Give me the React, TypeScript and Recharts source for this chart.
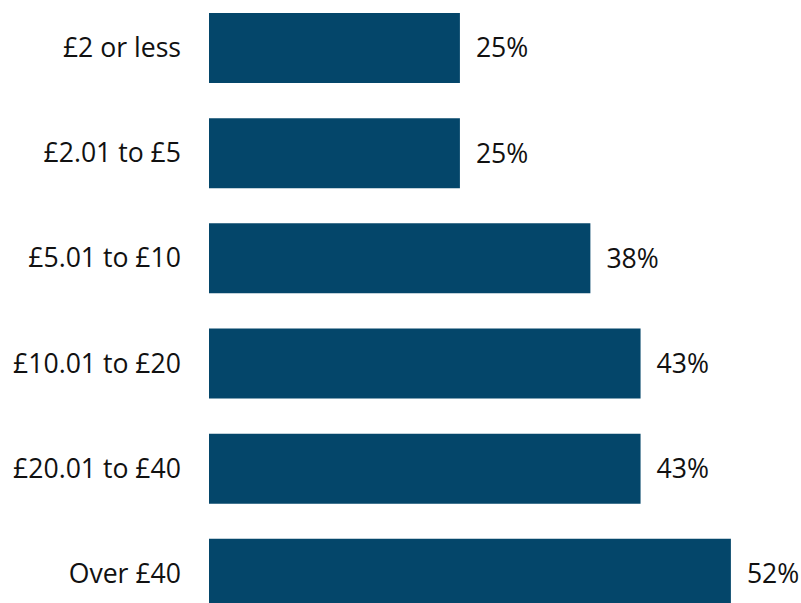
import React from 'react';
import { BarChart, Bar, XAxis, YAxis, LabelList } from 'recharts';

const categories = ['£2 or less', '£2.01 to £5', '£5.01 to £10', '£10.01 to £20', '£20.01 to £40', 'Over £40'];
const shares = [25, 25, 38, 43, 43, 52];

const data = categories.map((name, i) => ({ name, value: shares[i] }));

const FONT = '"Open Sans", sans-serif';

export default function App() {
  return (
    <div style={{ position: 'absolute', left: 0, top: -5 }}>
      <BarChart
        width={801}
        height={631}
        data={data}
        layout="vertical"
        margin={{ top: 0, right: 40, bottom: 0, left: 0 }}
      >
        <XAxis type="number" domain={[0, 55]} hide />
        <YAxis
          type="category"
          dataKey="name"
          width={209}
          axisLine={false}
          tickLine={false}
          tickSize={0}
          tickMargin={28}
          tick={{ fill: '#111', fontSize: 26.6, fontFamily: FONT }}
        />
        <Bar dataKey="value" fill="#04466a" barSize={70} isAnimationActive={false}>
          <LabelList
            dataKey="value"
            position="right"
            offset={16}
            formatter={(v: any) => `${v}%`}
            style={{ fill: '#111', fontSize: 26.6, fontFamily: FONT }}
          />
        </Bar>
      </BarChart>
    </div>
  );
}
